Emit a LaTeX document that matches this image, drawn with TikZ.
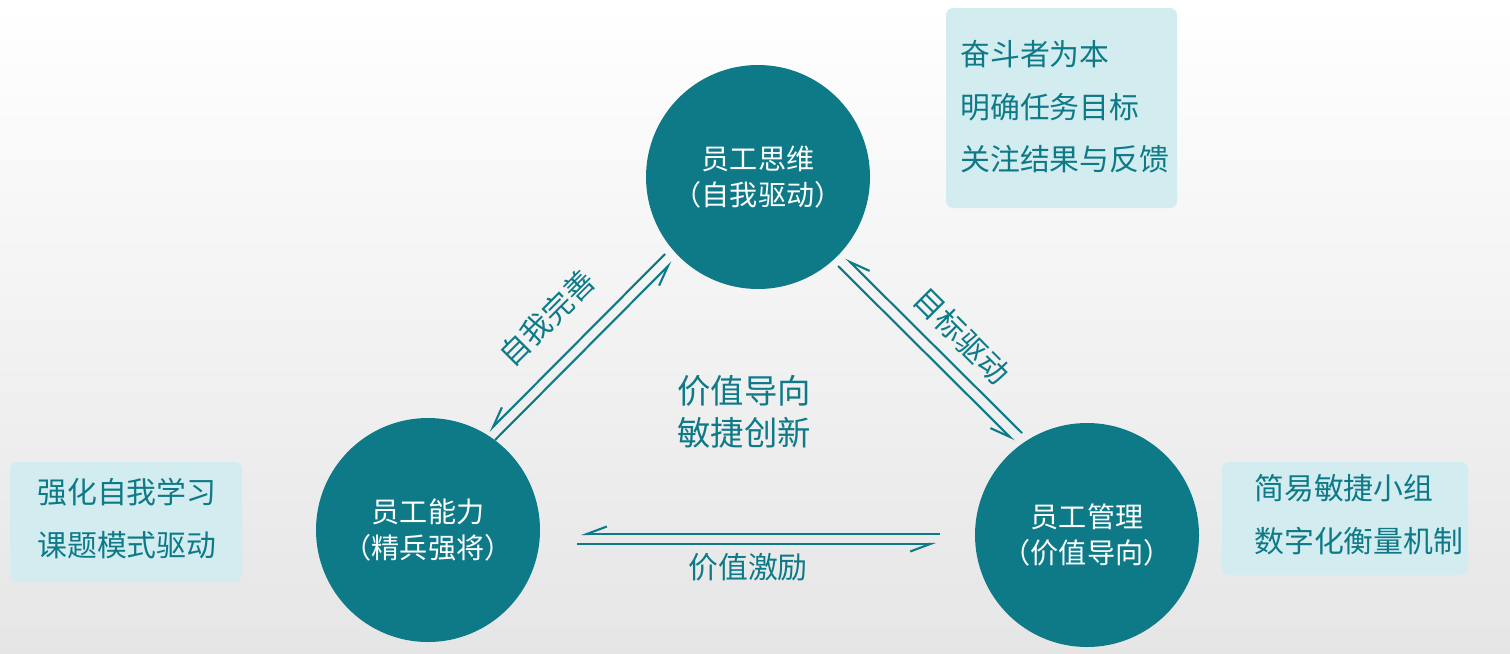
\documentclass[tikz,border=0pt]{standalone}
\usepackage{fontspec}
\setmainfont{Noto Sans CJK SC}
\usetikzlibrary{arrows.meta, positioning}
\definecolor{teal1}{HTML}{0E7A88}
\definecolor{boxbg}{HTML}{D3ECEF}
\tikzset{
  circ/.style={circle, fill=teal1, minimum size=224*0.02cm, text=white, font=\fontsize{16}{20}\selectfont, align=center},
  infobox/.style={text=teal1, font=\fontsize{17}{30}\selectfont, align=left, inner sep=0pt},
  lbl/.style={text=teal1, font=\fontsize{17}{20}\selectfont},
  harp/.style={draw=teal1, line width=1.2pt, -{Straight Barb[right, length=4mm, width=3mm]}}
}
\begin{document}
\begin{tikzpicture}[x=0.02cm, y=-0.02cm]
  \shade[top color=white, bottom color=black!10] (0,0) rectangle (1510,653);
  \useasboundingbox (0,0) rectangle (1510,653);
  % circles
  \node[circ] (think) at (758,177) {员工思维\\（自我驱动）};
  \node[circ] (abil) at (428,530) {员工能力\\（精兵强将）};
  \node[circ] (mgmt) at (1087,535) {员工管理\\（价值导向）};
  % boxes
  \fill[boxbg, rounded corners=4pt] (946,8) rectangle (1177,208);
  \node[infobox, anchor=north west] (b1) at (960,40) {奋斗者为本\\明确任务目标\\关注结果与反馈};
  \fill[boxbg, rounded corners=4pt] (10,462) rectangle (242,582);
  \node[infobox, anchor=north west] (b2) at (37,478) {强化自我学习\\课题模式驱动};
  \fill[boxbg, rounded corners=4pt] (1222,462) rectangle (1468,575);
  \node[infobox, anchor=north west] (b3) at (1254,474) {简易敏捷小组\\数字化衡量机制};
  % connectors
  \coordinate (l1a) at (495,440); \coordinate (l1b) at (672,262);
  \coordinate (l2a) at (665,254); \coordinate (l2b) at (489,431);
  \draw[harp] (l1a) -- (l1b);
  \draw[harp] (l2a) -- (l2b);
  \coordinate (r1a) at (1022,433); \coordinate (r1b) at (846,258);
  \coordinate (r2a) at (838,266); \coordinate (r2b) at (1014,441);
  \draw[harp] (r1a) -- (r1b);
  \draw[harp] (r2a) -- (r2b);
  \coordinate (h1a) at (940,534); \coordinate (h1b) at (581,534);
  \coordinate (h2a) at (577,544); \coordinate (h2b) at (936,544);
  \draw[harp] (h1a) -- (h1b);
  \draw[harp] (h2a) -- (h2b);
  % labels
  \node[lbl, rotate=45] (t1) at (547,318) {自我完善};
  \node[lbl, rotate=-45] (t2) at (962,336) {目标驱动};
  \node[lbl] (t3) at (748,567) {价值激励};
  \node[lbl, align=center, font=\fontsize{19}{24}\selectfont] (t4) at (744,412) {价值导向\\敏捷创新};
\end{tikzpicture}
\end{document}
